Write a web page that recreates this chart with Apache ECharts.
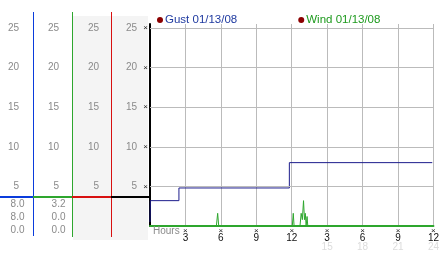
<!DOCTYPE html>
<html><head><meta charset="utf-8">
<script src="https://cdn.jsdelivr.net/npm/echarts@6/dist/echarts.min.js"></script>
<style>html,body{margin:0;padding:0;background:#fff}#c{width:442px;height:253px}</style>
</head><body><div id="c"></div>
<script>
// ---- data ----
const seriesNames = ['Gust 01/13/08', 'Wind 01/13/08'];
const gustHours  = [0,   0.03, 2.45, 11.8, 23.9];
const gustValues = [0.5, 3.2,  4.8,  8.0,  8.0];
const windHours  = [0, 5.62, 5.73, 5.82, 12.05, 12.13, 12.2, 12.7, 12.8, 12.9, 13.0, 13.08, 13.15, 13.22, 13.3, 13.36, 24];
const windValues = [0, 0,    1.6,  0,    0,     1.6,   0,    0,    1.6,  0.8,  3.2,  0.8,   1.6,   0,     1.2,  0,     0];
const yTicks = [5, 10, 15, 20, 25];
const xTickLabels = ['', '3', '6', '9', '12', '3', '6', '9', '12'];
const xSubLabels  = ['', '', '', '', '', '15', '18', '21', '24'];
const gustStats = ['8.0', '8.0', '0.0'];
const windStats = ['3.2', '0.0', '0.0'];

const FF = '"Liberation Sans", Arial, sans-serif';
const BLUE = '#0a3cdc', GREEN = '#2ea62e', RED = '#d81010';

const chart = echarts.init(document.getElementById('c'), null, {renderer: 'canvas'});

function yLabelAxis(offset, margin, withGlyph, isMain) {
  return {
    type: 'value', position: 'left', offset: offset, min: 0, max: 25.5, interval: 5,
    splitLine: {show: false}, axisTick: {show: false},
    axisLine: isMain ? {show: true, onZero: false, lineStyle: {color: '#000', width: 2}} : {show: false},
    axisLabel: {
      margin: margin, showMaxLabel: true,
      formatter: v => yTicks.includes(v) ? (withGlyph ? `{v|${v}}{g|×}` : `{v|${v}}`) : '',
      rich: {
        v: {color: '#8a8a8a', fontSize: 10, fontFamily: FF},
        g: {color: '#222', fontSize: 8, fontFamily: FF, width: 11, align: 'right'}
      }
    }
  };
}

function bar(x, y, w, h, color) {
  return {type: 'rect', z: 5, silent: true, shape: {x: x, y: y, width: w, height: h}, style: {fill: color}};
}

const graphics = [
  {type: 'rect', z: 0, silent: true, shape: {x: 73, y: 16, width: 75, height: 224}, style: {fill: '#f4f4f4'}},
  bar(33, 12, 1, 224, BLUE),
  bar(72, 12, 1, 225, GREEN),
  bar(111, 12, 1, 225, RED),
  bar(0, 196, 33, 2, BLUE),
  bar(33, 196, 39, 2, GREEN),
  bar(72, 196, 39, 2, RED),
  bar(111, 196, 38, 2, '#000'),
  {type: 'text', z: 6, left: 153, top: 226, style: {text: 'Hours', fill: '#8a8a8a', font: '10px ' + FF}}
];
[gustStats, windStats].forEach((arr, ci) => {
  arr.forEach((s, ri) => {
    graphics.push({type: 'text', z: 6, x: ci === 0 ? 24.5 : 65.5, y: 204.5 + ri * 13,
      style: {text: s, fill: '#8a8a8a', font: '10px ' + FF, align: 'right', verticalAlign: 'middle'}});
  });
});

const option = {
  animation: false,
  backgroundColor: '#fff',
  grid: {left: 150, right: 3, top: 24, bottom: 27, containLabel: false},
  legend: {
    left: 157, top: 14, padding: 0, itemWidth: 6, itemHeight: 6, itemGap: 61, icon: 'circle',
    data: [
      {name: seriesNames[0], itemStyle: {color: '#8b0000'}, textStyle: {color: '#1f3aa0'}},
      {name: seriesNames[1], itemStyle: {color: '#8b0000'}, textStyle: {color: '#1e9a1e'}}
    ],
    textStyle: {fontSize: 11.5, fontFamily: FF, padding: [0, 0, 0, -3]}
  },
  xAxis: {
    type: 'value', min: 0, max: 24, interval: 3,
    splitLine: {show: true, lineStyle: {color: '#bbbbbb', width: 1}},
    axisLine: {show: true, lineStyle: {color: GREEN, width: 2}},
    axisTick: {show: false},
    axisLabel: {
      margin: 1, showMinLabel: true, showMaxLabel: true,
      formatter: v => {
        const i = Math.round(v / 3);
        if (!xTickLabels[i]) return '';
        let s = `{g|×}\n{d|${xTickLabels[i]}}`;
        if (xSubLabels[i]) s += `\n{f|${xSubLabels[i]}}`;
        return s;
      },
      rich: {
        g: {fontSize: 8, lineHeight: 7, color: '#222', fontFamily: FF},
        d: {fontSize: 10, lineHeight: 9, color: '#111', fontFamily: FF},
        f: {fontSize: 10, lineHeight: 9, color: '#dcdcdc', fontFamily: FF}
      }
    }
  },
  yAxis: [
    yLabelAxis(0, 2, true, true),
    yLabelAxis(39, 12, false, false),
    yLabelAxis(78, 13, false, false),
    yLabelAxis(117, 14, false, false)
  ],
  graphic: graphics,
  series: [
    {
      name: seriesNames[0], type: 'line', step: 'end', symbol: 'none', z: 3,
      lineStyle: {color: '#1c1c8c', width: 1}, itemStyle: {color: '#1c1c8c'},
      data: gustHours.map((h, i) => [h, gustValues[i]]),
      markLine: {
        silent: true, symbol: 'none', label: {show: false}, animation: false,
        lineStyle: {color: '#bbbbbb', type: 'solid', width: 1},
        data: yTicks.map(v => ({yAxis: v}))
      }
    },
    {
      name: seriesNames[1], type: 'line', symbol: 'none', z: 4,
      lineStyle: {color: GREEN, width: 1}, itemStyle: {color: GREEN},
      data: windHours.map((h, i) => [h, windValues[i]])
    }
  ]
};
chart.setOption(option);
</script></body></html>
